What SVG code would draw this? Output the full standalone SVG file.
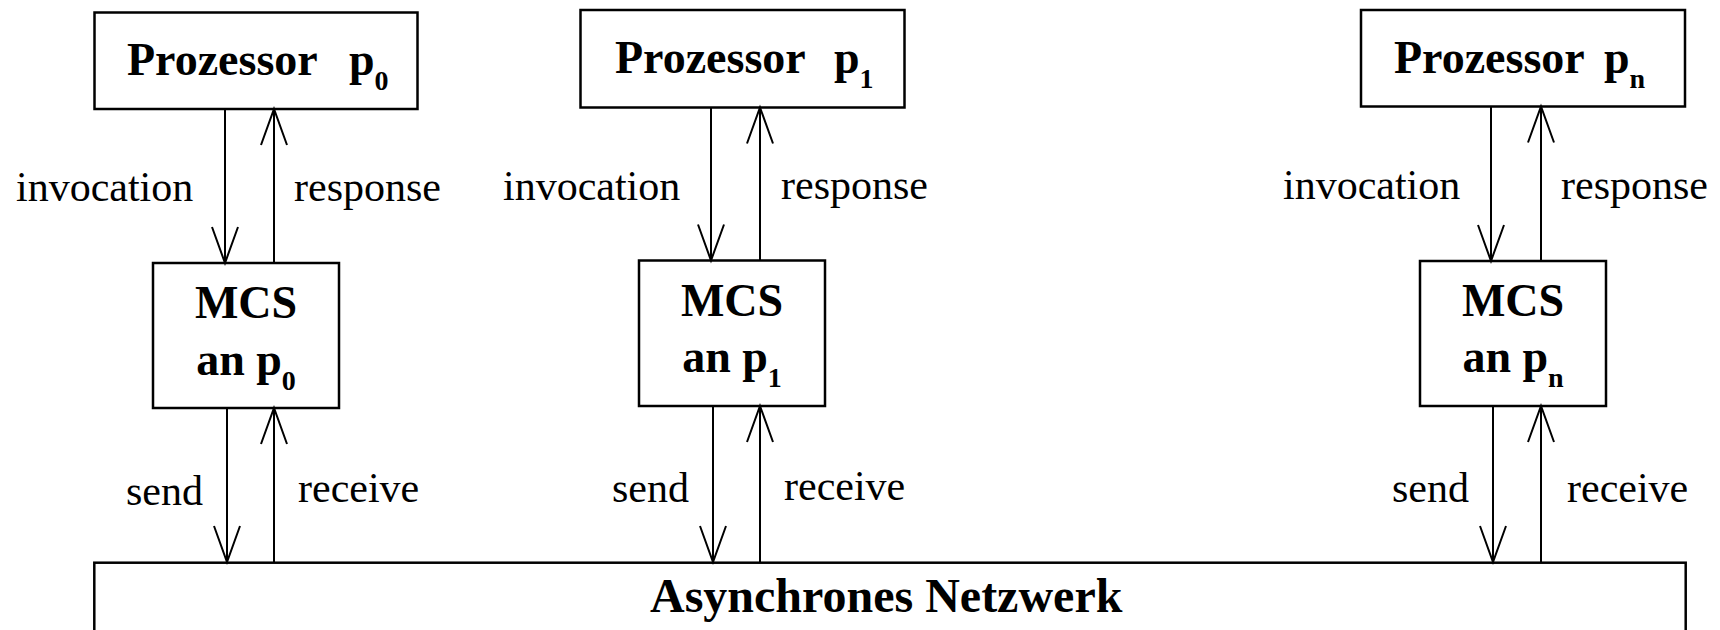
<svg xmlns="http://www.w3.org/2000/svg" width="1720" height="630" viewBox="0 0 1720 630">
  <style>
    .box { fill: #fff; stroke: #000; stroke-width: 2.5; }
    .title { font-family: "Liberation Serif", "Times New Roman", serif; font-weight: bold; font-size: 46px; fill: #000; }
    .net { font-size: 48px; }
    .sub { font-size: 28px; }
    .lbl { font-family: "Liberation Serif", "Times New Roman", serif; font-size: 42px; fill: #000; }
    .wire { stroke: #000; stroke-width: 2; fill: none; marker-end: url(#open); }
  </style>
  <defs>
    <marker id="open" markerUnits="userSpaceOnUse" viewBox="-40 -16 44 32" markerWidth="44" markerHeight="32" refX="0" refY="0" orient="auto">
      <path d="M-36,-13 L0,0 L-36,13" fill="none" stroke="#000" stroke-width="2"/>
    </marker>
  </defs>

  <rect width="1720" height="630" fill="#fff"/>

  <!-- processors -->
  <g id="proc-p0">
    <rect class="box" x="94.5" y="12.5" width="323" height="96.5"/>
    <text class="title" y="75"><tspan x="127">Prozessor</tspan><tspan x="349">p</tspan><tspan class="sub" dy="15">0</tspan></text>
  </g>
  <g id="proc-p1">
    <rect class="box" x="580.5" y="10" width="324" height="97.5"/>
    <text class="title" y="72.5"><tspan x="615">Prozessor</tspan><tspan x="834">p</tspan><tspan class="sub" dy="15">1</tspan></text>
  </g>
  <g id="proc-pn">
    <rect class="box" x="1361" y="10" width="324" height="96.5"/>
    <text class="title" y="72.5"><tspan x="1394">Prozessor</tspan><tspan x="1604">p</tspan><tspan class="sub" dy="15">n</tspan></text>
  </g>

  <!-- MCS instances -->
  <g id="mcs-p0">
    <rect class="box" x="153" y="263" width="186" height="145"/>
    <text class="title" x="246" y="318" text-anchor="middle">MCS</text>
    <text class="title" x="246" y="375" text-anchor="middle">an p<tspan class="sub" dy="15">0</tspan></text>
  </g>
  <g id="mcs-p1">
    <rect class="box" x="639" y="260.5" width="186" height="145.5"/>
    <text class="title" x="732" y="315.5" text-anchor="middle">MCS</text>
    <text class="title" x="732" y="372" text-anchor="middle">an p<tspan class="sub" dy="15">1</tspan></text>
  </g>
  <g id="mcs-pn">
    <rect class="box" x="1420" y="261" width="186" height="145"/>
    <text class="title" x="1513" y="315.5" text-anchor="middle">MCS</text>
    <text class="title" x="1513" y="372" text-anchor="middle">an p<tspan class="sub" dy="15">n</tspan></text>
  </g>

  <!-- network -->
  <g id="network">
    <rect class="box" x="94.3" y="562.7" width="1591.4" height="100"/>
    <text class="title net" x="650" y="612">Asynchrones Netzwerk</text>
  </g>

  <!-- connectors -->
  <g id="connectors">
    <line class="wire" x1="225" y1="109" x2="225" y2="263"/>
    <line class="wire" x1="274" y1="263" x2="274" y2="109"/>
    <line class="wire" x1="227" y1="408" x2="227" y2="562"/>
    <line class="wire" x1="274" y1="562" x2="274" y2="408"/>

    <line class="wire" x1="711" y1="107.5" x2="711" y2="260.5"/>
    <line class="wire" x1="760" y1="260.5" x2="760" y2="107.5"/>
    <line class="wire" x1="713" y1="406" x2="713" y2="562"/>
    <line class="wire" x1="760" y1="562" x2="760" y2="406"/>

    <line class="wire" x1="1491" y1="106.5" x2="1491" y2="261"/>
    <line class="wire" x1="1541" y1="261" x2="1541" y2="106.5"/>
    <line class="wire" x1="1493" y1="406" x2="1493" y2="562"/>
    <line class="wire" x1="1541" y1="562" x2="1541" y2="406"/>
  </g>

  <!-- connector labels -->
  <g id="labels">
    <text class="lbl" x="16" y="201">invocation</text>
    <text class="lbl" x="294" y="201">response</text>
    <text class="lbl" x="126" y="505">send</text>
    <text class="lbl" x="298" y="502">receive</text>

    <text class="lbl" x="503" y="200">invocation</text>
    <text class="lbl" x="781" y="199">response</text>
    <text class="lbl" x="612" y="502">send</text>
    <text class="lbl" x="784" y="500">receive</text>

    <text class="lbl" x="1283" y="199">invocation</text>
    <text class="lbl" x="1561" y="199">response</text>
    <text class="lbl" x="1392" y="502">send</text>
    <text class="lbl" x="1567" y="502">receive</text>
  </g>
</svg>
